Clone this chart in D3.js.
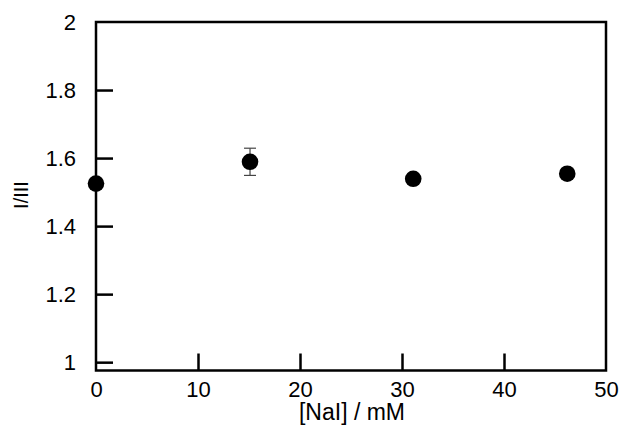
<!DOCTYPE html>
<html>
<head>
<meta charset="utf-8">
<script src="https://cdn.jsdelivr.net/npm/d3@7"></script>
<style>
html,body{margin:0;padding:0;background:#fff;}
svg{display:block;}
text{font-family:"Liberation Sans",Arial,sans-serif;fill:#000;}
</style>
</head>
<body>
<svg id="chart" width="620" height="429"></svg>
<script>
const naiConc = [0.0, 15.1, 31.1, 46.2];
const ratioI_III = [1.525, 1.589, 1.539, 1.554];
const ratioErr = [0.012, 0.04, 0.008, 0.008];
const xTicks = [0, 10, 20, 30, 40, 50];
const yTicks = [1, 1.2, 1.4, 1.6, 1.8, 2];
const xLabel = "[NaI] / mM";
const yLabel = "I/III";

const svg = d3.select("#chart");
const L = 96, R = 606, T = 22, B = 370.5;
const x = d3.scaleLinear().domain([0, 50]).range([L, R]);
const y = d3.scaleLinear().domain([0.9755, 2]).range([B, T]);

// frame
svg.append("rect").attr("x", L).attr("y", T).attr("width", R - L).attr("height", B - T)
  .attr("fill", "none").attr("stroke", "#000").attr("stroke-width", 2.5);

// x axis
const xAxis = d3.axisBottom(x).tickValues(xTicks).tickSize(-17).tickPadding(11).tickFormat(d3.format("d"));
const gx = svg.append("g").attr("transform", `translate(0,${B})`).call(xAxis);
gx.attr("font-size", 22).attr("font-family", "Liberation Sans, Arial, sans-serif");
gx.select(".domain").remove();
gx.selectAll(".tick line").attr("stroke", "#000").attr("stroke-width", 2.5);
gx.selectAll(".tick text").attr("fill", "#000");
gx.selectAll(".tick").filter(d => d === 0 || d === 50).select("line").remove();

// y axis
const yAxis = d3.axisLeft(y).tickValues(yTicks).tickSize(-17).tickPadding(20).tickFormat(d => d3.format("~g")(d));
const gy = svg.append("g").attr("transform", `translate(${L},0)`).call(yAxis);
gy.attr("font-size", 22).attr("font-family", "Liberation Sans, Arial, sans-serif");
gy.select(".domain").remove();
gy.selectAll(".tick line").attr("stroke", "#000").attr("stroke-width", 2.5);
gy.selectAll(".tick text").attr("fill", "#000");
gy.selectAll(".tick").filter(d => d === 2).select("line").remove();

// labels
svg.append("text").attr("x", 352).attr("y", 420).attr("text-anchor", "middle")
  .attr("font-size", 23).text(xLabel);
svg.append("text").attr("transform", "translate(28,195) rotate(-90)").attr("text-anchor", "middle")
  .attr("font-size", 20).text(yLabel);

// error bars
const pts = naiConc.map((v, i) => ({x: v, y: ratioI_III[i], e: ratioErr[i]}));
const eb = svg.append("g").attr("stroke", "#444").attr("stroke-width", 1.2);
pts.forEach(p => {
  eb.append("line").attr("x1", x(p.x)).attr("x2", x(p.x)).attr("y1", y(p.y - p.e)).attr("y2", y(p.y + p.e));
  [p.y - p.e, p.y + p.e].forEach(v => {
    eb.append("line").attr("x1", x(p.x) - 6).attr("x2", x(p.x) + 6).attr("y1", y(v)).attr("y2", y(v));
  });
});

// points
svg.append("g").selectAll("circle").data(pts).join("circle")
  .attr("cx", d => x(d.x)).attr("cy", d => y(d.y)).attr("r", 8.3).attr("fill", "#000");
</script>
</body>
</html>
